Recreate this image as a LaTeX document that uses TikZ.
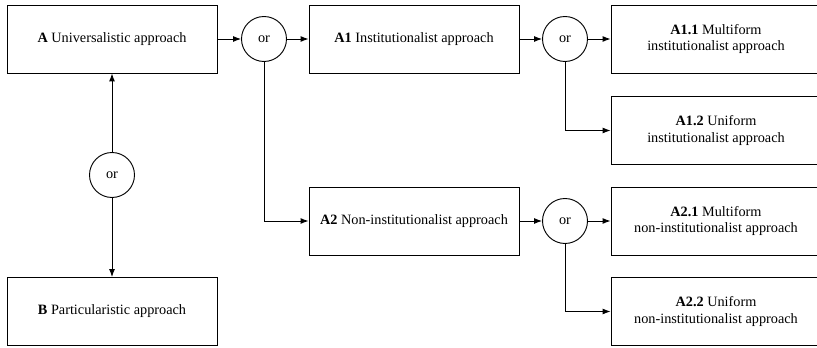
\documentclass[tikz,border=0pt]{standalone}
\usepackage{fontspec}
\setmainfont{Liberation Serif}
\usetikzlibrary{arrows.meta}
\tikzset{block/.style = {draw, line width = 0.7pt, minimum width = 157.5pt,
                         minimum height = 51pt, inner sep = 0, align = center,
                         font = \fontsize{10.7}{12.6}\selectfont}}
\tikzset{choice/.style = {draw, circle, line width = 0.7pt, minimum size = 33.75pt,
                          inner sep = 0, font = \fontsize{10.7}{12.6}\selectfont}}
\tikzset{link/.style = {line width = 0.7pt, -{Latex[length = 6pt, width = 4.5pt]}}}

\begin{document}
\begin{tikzpicture}[x = 0.75pt, y = -0.75pt]
      \useasboundingbox (0, 0) rectangle (817, 348);

      \node [block] (A) at (112, 39) {\textbf{A} Universalistic approach};
      \node [choice] (orA) at (264, 39) {or};
      \node [block] (A1) at (414, 39) {\textbf{A1} Institutionalist approach};
      \node [choice] (orA1) at (565, 39) {or};
      \node [block] (A11) at (716, 39) {\textbf{A1.1} Multiform\\institutionalist approach};
      \node [block] (A12) at (716, 130.5) {\textbf{A1.2} Uniform\\institutionalist approach};
      \node [block] (A2) at (414, 221) {\textbf{A2} Non-institutionalist approach};
      \node [choice] (orA2) at (565, 221) {or};
      \node [block] (A21) at (716, 221) {\textbf{A2.1} Multiform\\non-institutionalist approach};
      \node [block] (A22) at (716, 311.5) {\textbf{A2.2} Uniform\\non-institutionalist approach};
      \node [choice] (orB) at (112, 175) {or};
      \node [block] (B) at (112, 311.5) {\textbf{B} Particularistic approach};

      \draw [link] (A) -- (orA);
      \draw [link] (orA) -- (A1);
      \draw [link] (orA) |- (A2);
      \draw [link] (A1) -- (orA1);
      \draw [link] (orA1) -- (A11);
      \draw [link] (orA1) |- (A12);
      \draw [link] (A2) -- (orA2);
      \draw [link] (orA2) -- (A21);
      \draw [link] (orA2) |- (A22);
      \draw [link] (orB) -- (A);
      \draw [link] (orB) -- (B);
    \end{tikzpicture}
\end{document}
